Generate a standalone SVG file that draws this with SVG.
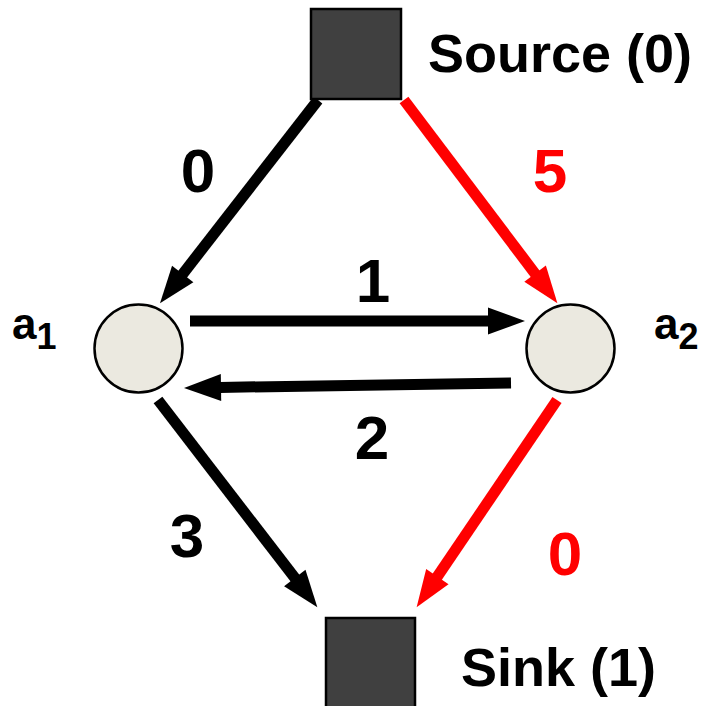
<svg xmlns="http://www.w3.org/2000/svg" width="704" height="706" viewBox="0 0 704 706">
<style>
.lbl{font-family:"Liberation Sans",Arial,sans-serif;font-weight:bold;font-size:62px;text-anchor:middle}
.name{font-family:"Liberation Sans",Arial,sans-serif;font-weight:bold;font-size:54px}
.an{font-family:"Liberation Sans",Arial,sans-serif;font-weight:bold;font-size:44px}
.sub{font-size:36px}
.sq{fill:#404040;stroke:#000;stroke-width:2.5}
.circ{fill:#EBE9E0;stroke:#000;stroke-width:2.5}
.e{fill:none;stroke-width:11}
.blk{stroke:#000;marker-end:url(#hb)}
.red{stroke:#FF0000;marker-end:url(#hr)}
</style>
<defs>
<marker id="hb" markerUnits="userSpaceOnUse" markerWidth="40" markerHeight="30" viewBox="0 -15 40 30" refX="1" refY="0" orient="auto" overflow="visible">
<path d="M0,-13.5 L37,0 L0,13.5 z" fill="#000"/>
</marker>
<marker id="hr" markerUnits="userSpaceOnUse" markerWidth="40" markerHeight="30" viewBox="0 -15 40 30" refX="1" refY="0" orient="auto" overflow="visible">
<path d="M0,-13.5 L37,0 L0,13.5 z" fill="#FF0000"/>
</marker>
</defs>
<g id="connectors">
<path class="e blk" d="M318,100 L182.1,274.8"/>
<path class="e red" d="M404,100 L535.7,274.5"/>
<path class="e blk" d="M190,321 L489,321"/>
<path class="e blk" d="M511,383 L220,387.4"/>
<path class="e blk" d="M158,400 L295.4,578.7"/>
<path class="e red" d="M557,400 L436.8,577.4"/>
</g>
<g id="edge-labels">
<text class="lbl" x="198" y="192">0</text>
<text class="lbl" x="550" y="192" fill="#FF0000">5</text>
<text class="lbl" x="373" y="302">1</text>
<text class="lbl" x="372" y="459">2</text>
<text class="lbl" x="187" y="557">3</text>
<text class="lbl" x="565" y="575" fill="#FF0000">0</text>
</g>
<g id="source">
<rect class="sq" x="311" y="9" width="90" height="90"/>
<text class="name" x="428" y="72">Source (0)</text>
</g>
<g id="a1">
<circle class="circ" cx="138.5" cy="348.5" r="44"/>
<text class="an" x="12" y="339">a<tspan class="sub" dy="10">1</tspan></text>
</g>
<g id="a2">
<circle class="circ" cx="570.5" cy="348.5" r="44"/>
<text class="an" x="654" y="339">a<tspan class="sub" dy="10">2</tspan></text>
</g>
<g id="sink">
<rect class="sq" x="326" y="618" width="89" height="92"/>
<text class="name" x="461" y="686">Sink (1)</text>
</g>
</svg>
